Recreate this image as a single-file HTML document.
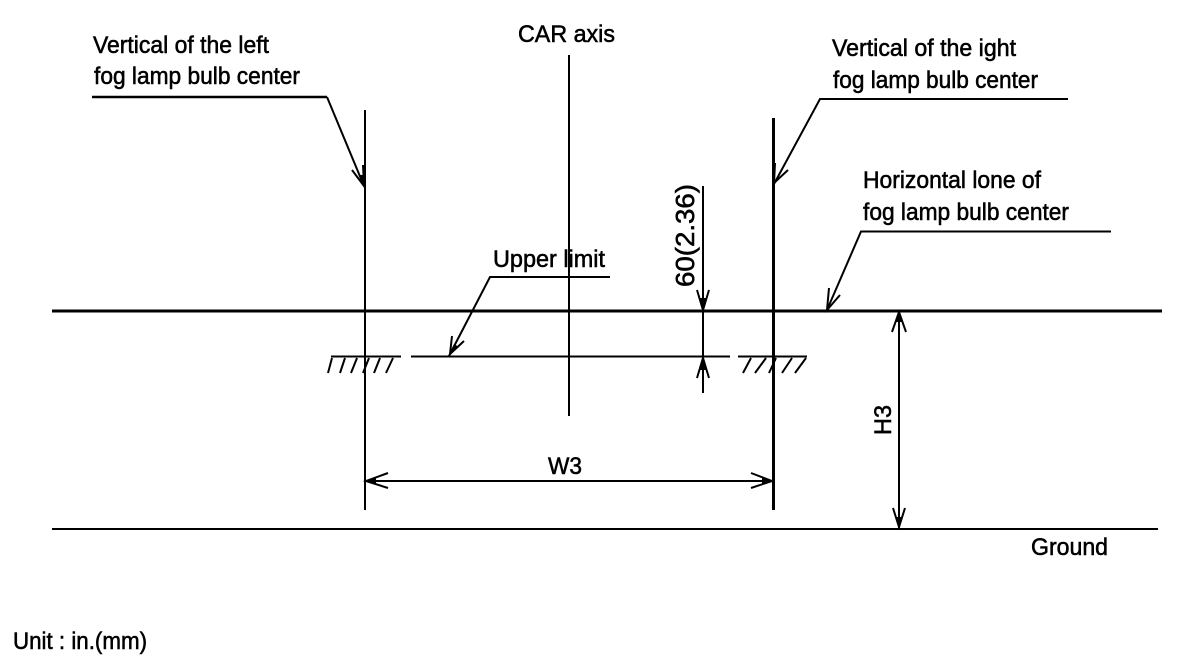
<!DOCTYPE html>
<html><head><meta charset="utf-8"><style>
html,body{margin:0;padding:0;background:#fff;width:1200px;height:668px;overflow:hidden}
svg{display:block}
text{font-family:"Liberation Sans",sans-serif;font-size:24px;fill:#000;stroke:#000;stroke-width:.55px}
</style></head><body>
<svg width="1200" height="668" viewBox="0 0 1200 668" xmlns="http://www.w3.org/2000/svg">
<g fill="none" stroke="#000" stroke-width="2">
<path d="M52 311H1162" stroke-width="3"/>
<path d="M52 529H1158"/>
<path d="M365 110V510"/>
<path d="M569 55V416"/>
<path d="M773.5 118V510" stroke-width="3"/>
<path d="M703 186V393"/>
<path d="M411 356.5H730"/>
<path d="M331 356.5H401M738 356.5H807"/>
<path d="M92 97H327" stroke-width="2.6"/>
<path d="M327 97L364 186"/>
<path d="M1068 99H820L774 184"/>
<path d="M1111 231.5H861L827 310"/>
<path d="M610 277H490L449 356"/>
<path d="M365 481H773"/>
<path d="M899 311V529"/>
<path d="M332 358L328 373M345 358L340 373M357 358L351 373M369 358L363 373M380 358L374 373M393 358L386 373"/>
<path d="M751 358L743 373M766 358L755 373M776 358L769 373M792 358L782 373M806 358L795 373"/>
<path d="M352 170L364 186L363 165"/>
<path d="M788 170L774 183L775 163"/>
<path d="M840 295L827 310L829 288"/>
<path d="M452 336L450 354L464 341"/>
<path d="M697 290L703 310L709 290"/>
<path d="M697 378L703 358L709 378"/>
<path d="M388 473L366 481L388 488"/>
<path d="M751 473L772 481L751 488"/>
<path d="M892 332L899 312L906 332"/>
<path d="M893 508L899 527L905 508"/>
</g>
<g fill="#000">
<path d="M700 298L703 310L706 298Z"/>
<path d="M700 370L703 358L706 370Z"/>
<path d="M376 478L366 481L376 484Z"/>
<path d="M762 478L772 481L762 484Z"/>
<path d="M896 322L899 312L902 322Z"/>
<path d="M896 517L899 527L902 517Z"/>
<path d="M454 344L449 355L459 347Z"/>
<path d="M360 175L364 186L365 175Z"/>
</g>
<text x="93" y="53" textLength="176" lengthAdjust="spacingAndGlyphs">Vertical of the left</text>
<text x="94" y="84" textLength="206" lengthAdjust="spacingAndGlyphs">fog lamp bulb center</text>
<text x="518" y="42" textLength="97" lengthAdjust="spacingAndGlyphs">CAR axis</text>
<text x="832" y="56" textLength="184" lengthAdjust="spacingAndGlyphs">Vertical of the ight</text>
<text x="833" y="88" textLength="205" lengthAdjust="spacingAndGlyphs">fog lamp bulb center</text>
<text x="863" y="188" textLength="178" lengthAdjust="spacingAndGlyphs">Horizontal lone of</text>
<text x="863" y="220" textLength="206" lengthAdjust="spacingAndGlyphs">fog lamp bulb center</text>
<text x="493" y="267" textLength="112" lengthAdjust="spacingAndGlyphs">Upper limit</text>
<text x="548" y="474" textLength="34" lengthAdjust="spacingAndGlyphs">W3</text>
<text x="1031" y="555" textLength="77" lengthAdjust="spacingAndGlyphs">Ground</text>
<text x="13" y="649" textLength="134" lengthAdjust="spacingAndGlyphs">Unit : in.(mm)</text>
<text transform="translate(694 287) rotate(-90)" textLength="103" lengthAdjust="spacingAndGlyphs" style="font-size:26px">60(2.36)</text>
<text transform="translate(891 435) rotate(-90)" textLength="30" lengthAdjust="spacingAndGlyphs">H3</text>
</svg>
</body></html>
